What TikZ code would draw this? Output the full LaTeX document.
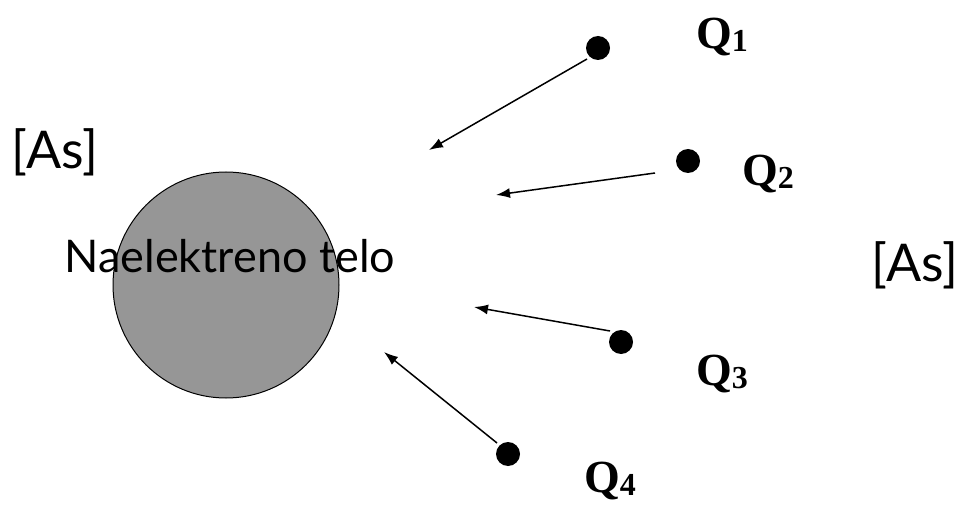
\documentclass[tikz,border=0pt]{standalone}
\usepackage{fontspec}
\setmainfont{Liberation Serif}
\newfontfamily\handfont{Lato}
\usetikzlibrary{arrows.meta}
\definecolor{bodygray}{RGB}{150,150,150}
\tikzset{
  charge/.style={circle,fill=black,inner sep=0pt,minimum size=24pt},
  qlabel/.style={font=\fontsize{46}{50}\selectfont\bfseries,inner sep=0pt},
  bodylabel/.style={font=\handfont\fontsize{45}{49}\selectfont,inner sep=0pt},
  unitlabel/.style={font=\handfont\fontsize{52}{56}\selectfont,inner sep=0pt},
  force/.style={line width=1.5pt,-{Latex[length=14pt,width=10pt]}}
}
\newcommand{\qsub}[1]{Q\raisebox{-3pt}{\fontsize{32}{34}\selectfont #1}}
\begin{document}
\begin{tikzpicture}[x=1pt,y=-1pt]
\useasboundingbox (0,0) rectangle (961,505);
% charged body
\node[circle,draw=black,line width=1pt,fill=bodygray,minimum size=226pt,inner sep=0pt] (body) at (226,285) {};
\node[bodylabel] (name) at (230,256) {Naelektreno telo};
\node[unitlabel] (unitL) at (55,152) {[As]};
\node[unitlabel] (unitR) at (915,265) {[As]};
% charges
\node[charge] (q1) at (598,48) {};
\node[charge] (q2) at (688,161) {};
\node[charge] (q3) at (621,342) {};
\node[charge] (q4) at (508,454) {};
\node[qlabel] (l1) at (722,37) {\qsub{1}};
\node[qlabel] (l2) at (768,174) {\qsub{2}};
\node[qlabel] (l3) at (722,374) {\qsub{3}};
\node[qlabel] (l4) at (610,481) {\qsub{4}};
% force vectors
\coordinate (s1) at (587,59);
\coordinate (e1) at (429,150);
\coordinate (s2) at (655,173);
\coordinate (e2) at (496,195);
\coordinate (s3) at (610,331);
\coordinate (e3) at (474,307);
\coordinate (s4) at (497,443);
\coordinate (e4) at (384,352);
\draw[force] (s1) -- (e1);
\draw[force] (s2) -- (e2);
\draw[force] (s3) -- (e3);
\draw[force] (s4) -- (e4);
\end{tikzpicture}
\end{document}
